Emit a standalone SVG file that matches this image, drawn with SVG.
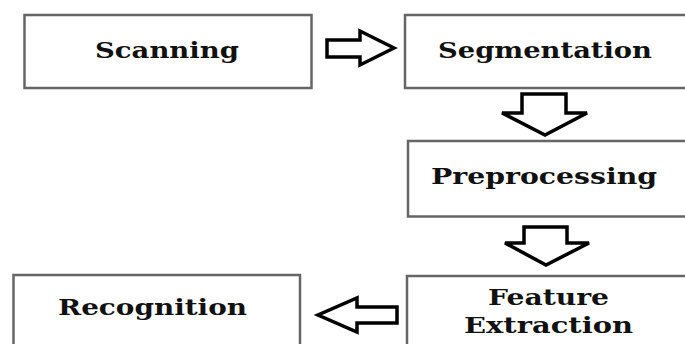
<svg xmlns="http://www.w3.org/2000/svg" width="685" height="344" viewBox="0 0 685 344">
<style>
.box{fill:#fff;stroke:#666;stroke-width:2.5}
.lbl{font-family:"DejaVu Serif","Liberation Serif",serif;font-weight:bold;font-size:22.5px;fill:#111}
.arr{fill:#fff;stroke:#000;stroke-width:3.5;stroke-linejoin:miter}
</style>
<rect width="685" height="344" fill="#fff"/>
<g id="scanning">
<rect class="box" x="24.5" y="15" width="287" height="73"/>
<text class="lbl" x="95" y="58" textLength="144" lengthAdjust="spacingAndGlyphs">Scanning</text>
</g>
<g id="segmentation">
<rect class="box" x="405" y="15" width="290" height="73"/>
<text class="lbl" x="438" y="58" textLength="214" lengthAdjust="spacingAndGlyphs">Segmentation</text>
</g>
<g id="preprocessing">
<rect class="box" x="408" y="141" width="290" height="75.5"/>
<text class="lbl" x="431" y="184" textLength="226" lengthAdjust="spacingAndGlyphs">Preprocessing</text>
</g>
<g id="feature-extraction">
<rect class="box" x="407" y="276" width="290" height="80"/>
<text class="lbl" x="488" y="305" textLength="121" lengthAdjust="spacingAndGlyphs">Feature</text>
<text class="lbl" x="464" y="333" textLength="169" lengthAdjust="spacingAndGlyphs">Extraction</text>
</g>
<g id="recognition">
<rect class="box" x="13.5" y="275" width="286.5" height="80"/>
<text class="lbl" x="58" y="315" textLength="189" lengthAdjust="spacingAndGlyphs">Recognition</text>
</g>
<g id="connectors">
<polygon class="arr" points="327,40 360,40 360,31 394,48 360,65 360,57 327,57"/>
<polygon class="arr" points="522,94 566,94 566,113 587,113 545,135 502,113 522,113"/>
<polygon class="arr" points="524,227 567,227 567,243 589,243 546,265 505,243 524,243"/>
<polygon class="arr" points="397,307 357,307 357,298 318,315 357,332 357,323 397,323"/>
</g>
</svg>
